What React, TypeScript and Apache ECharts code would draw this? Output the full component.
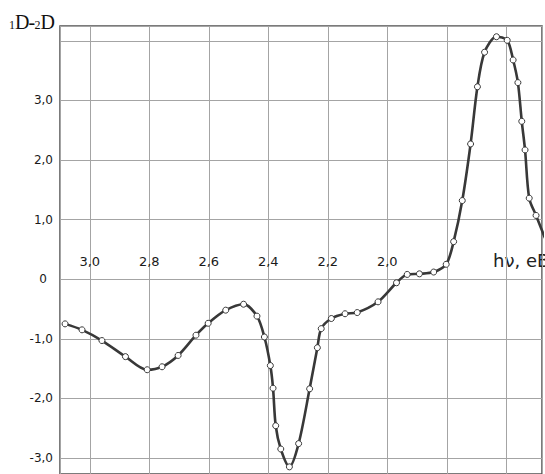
import React, { useEffect, useRef } from 'react';
import * as echarts from 'echarts';

// photon energy, eV (x axis, reversed)
const hv = [3.083, 3.026, 2.959, 2.88, 2.807, 2.757, 2.703, 2.643, 2.602, 2.543, 2.483, 2.438, 2.413, 2.393, 2.384, 2.375, 2.358, 2.329, 2.298, 2.261, 2.235, 2.222, 2.188, 2.142, 2.101, 2.031, 1.969, 1.933, 1.892, 1.844, 1.802, 1.777, 1.748, 1.72, 1.697, 1.673, 1.633, 1.597, 1.577, 1.561, 1.548, 1.537, 1.523, 1.5, 1.47];
// 1D - 2D difference
const dDiff = [-0.75, -0.85, -1.03, -1.3, -1.52, -1.47, -1.28, -0.94, -0.74, -0.52, -0.42, -0.62, -0.97, -1.45, -1.83, -2.46, -2.85, -3.15, -2.76, -1.84, -1.15, -0.83, -0.66, -0.58, -0.56, -0.38, -0.06, 0.08, 0.09, 0.12, 0.25, 0.63, 1.32, 2.27, 3.23, 3.81, 4.07, 4.01, 3.68, 3.3, 2.65, 2.17, 1.36, 1.07, 0.69];

const xLabelValues = [3.0, 2.8, 2.6, 2.4, 2.2, 2.0];
const yLabelValues = [-3, -2, -1, 0, 1, 2, 3];
const xName = 'hν, eB';

const FONT = 'DejaVu Sans';
const SERIF = 'Liberation Serif';

export default function App() {
  const ref = useRef<HTMLDivElement>(null);
  useEffect(() => {
    const chart = echarts.init(ref.current!, null, { renderer: 'svg' });
    const fmtNum = (v: number) => v.toFixed(1).replace('.', ',');
    const gridColor = '#a4a4a4';
    const titleFill = '#111';
    chart.setOption({
      animation: false,
      backgroundColor: '#ffffff',
      grid: {
        left: 60,
        top: 26,
        right: -1,
        bottom: -1,
        show: true,
        borderColor: '#505050',
        borderWidth: 1.5,
        containLabel: false,
      },
      xAxis: {
        type: 'value',
        inverse: true,
        min: 1.48,
        max: 3.1,
        splitNumber: 8,
        minInterval: 0.2,
        maxInterval: 0.2,
        offset: -195,
        axisLine: { show: false, onZero: false },
        axisTick: { show: false },
        axisLabel: {
          inside: true,
          margin: 11,
          fontFamily: FONT,
          fontSize: 13,
          color: '#1a1a1a',
          hideOverlap: false,
          formatter: (v: number) => {
            const m = xLabelValues.find((t) => Math.abs(t - v) < 1e-6);
            return m === undefined ? '' : fmtNum(m);
          },
        },
        splitLine: { show: true, lineStyle: { color: gridColor, width: 1 } },
      },
      yAxis: {
        type: 'value',
        min: -3.27,
        max: 4.25,
        splitNumber: 8,
        minInterval: 1,
        maxInterval: 1,
        axisLine: { show: false },
        axisTick: { show: false },
        axisLabel: {
          margin: 7,
          fontFamily: FONT,
          fontSize: 12,
          color: '#1a1a1a',
          hideOverlap: false,
          formatter: (v: number) => {
            const m = yLabelValues.find((t) => Math.abs(t - v) < 1e-6);
            if (m === undefined) return '';
            if (m === 0) return '{z|0}';
            return fmtNum(m);
          },
          rich: {
            z: { padding: [0, 6, 0, 0], fontFamily: FONT, fontSize: 12, color: '#1a1a1a' },
          },
        },
        splitLine: { show: true, lineStyle: { color: gridColor, width: 1 } },
      },
      graphic: [
        { type: 'text', left: 9, top: 19, style: { text: '1', font: `12px "${SERIF}"`, fill: titleFill } },
        { type: 'text', left: 15, top: 12, style: { text: 'D', font: `20px "${SERIF}"`, fill: titleFill } },
        { type: 'text', left: 28.5, top: 12, style: { text: '-', font: `20px "${SERIF}"`, fill: titleFill } },
        { type: 'text', left: 34.5, top: 19, style: { text: '2', font: `12px "${SERIF}"`, fill: titleFill } },
        { type: 'text', left: 40.5, top: 12, style: { text: 'D', font: `20px "${SERIF}"`, fill: titleFill } },
        { type: 'text', left: 493, top: 251, style: { text: xName, font: `18px "${FONT}"`, fill: '#222' } },
      ],
      series: [
        {
          type: 'line',
          data: hv.map((x, i) => [x, dDiff[i]]),
          smooth: 0.3,
          clip: true,
          symbol: 'circle',
          symbolSize: 6,
          showAllSymbol: true,
          lineStyle: { color: '#383838', width: 2.6 },
          itemStyle: { color: '#ffffff', borderColor: '#383838', borderWidth: 1 },
        },
      ],
    });
    return () => chart.dispose();
  }, []);
  return (
    <div
      ref={ref}
      style={{ position: 'fixed', left: 0, top: 0, width: 545, height: 474 }}
    />
  );
}
